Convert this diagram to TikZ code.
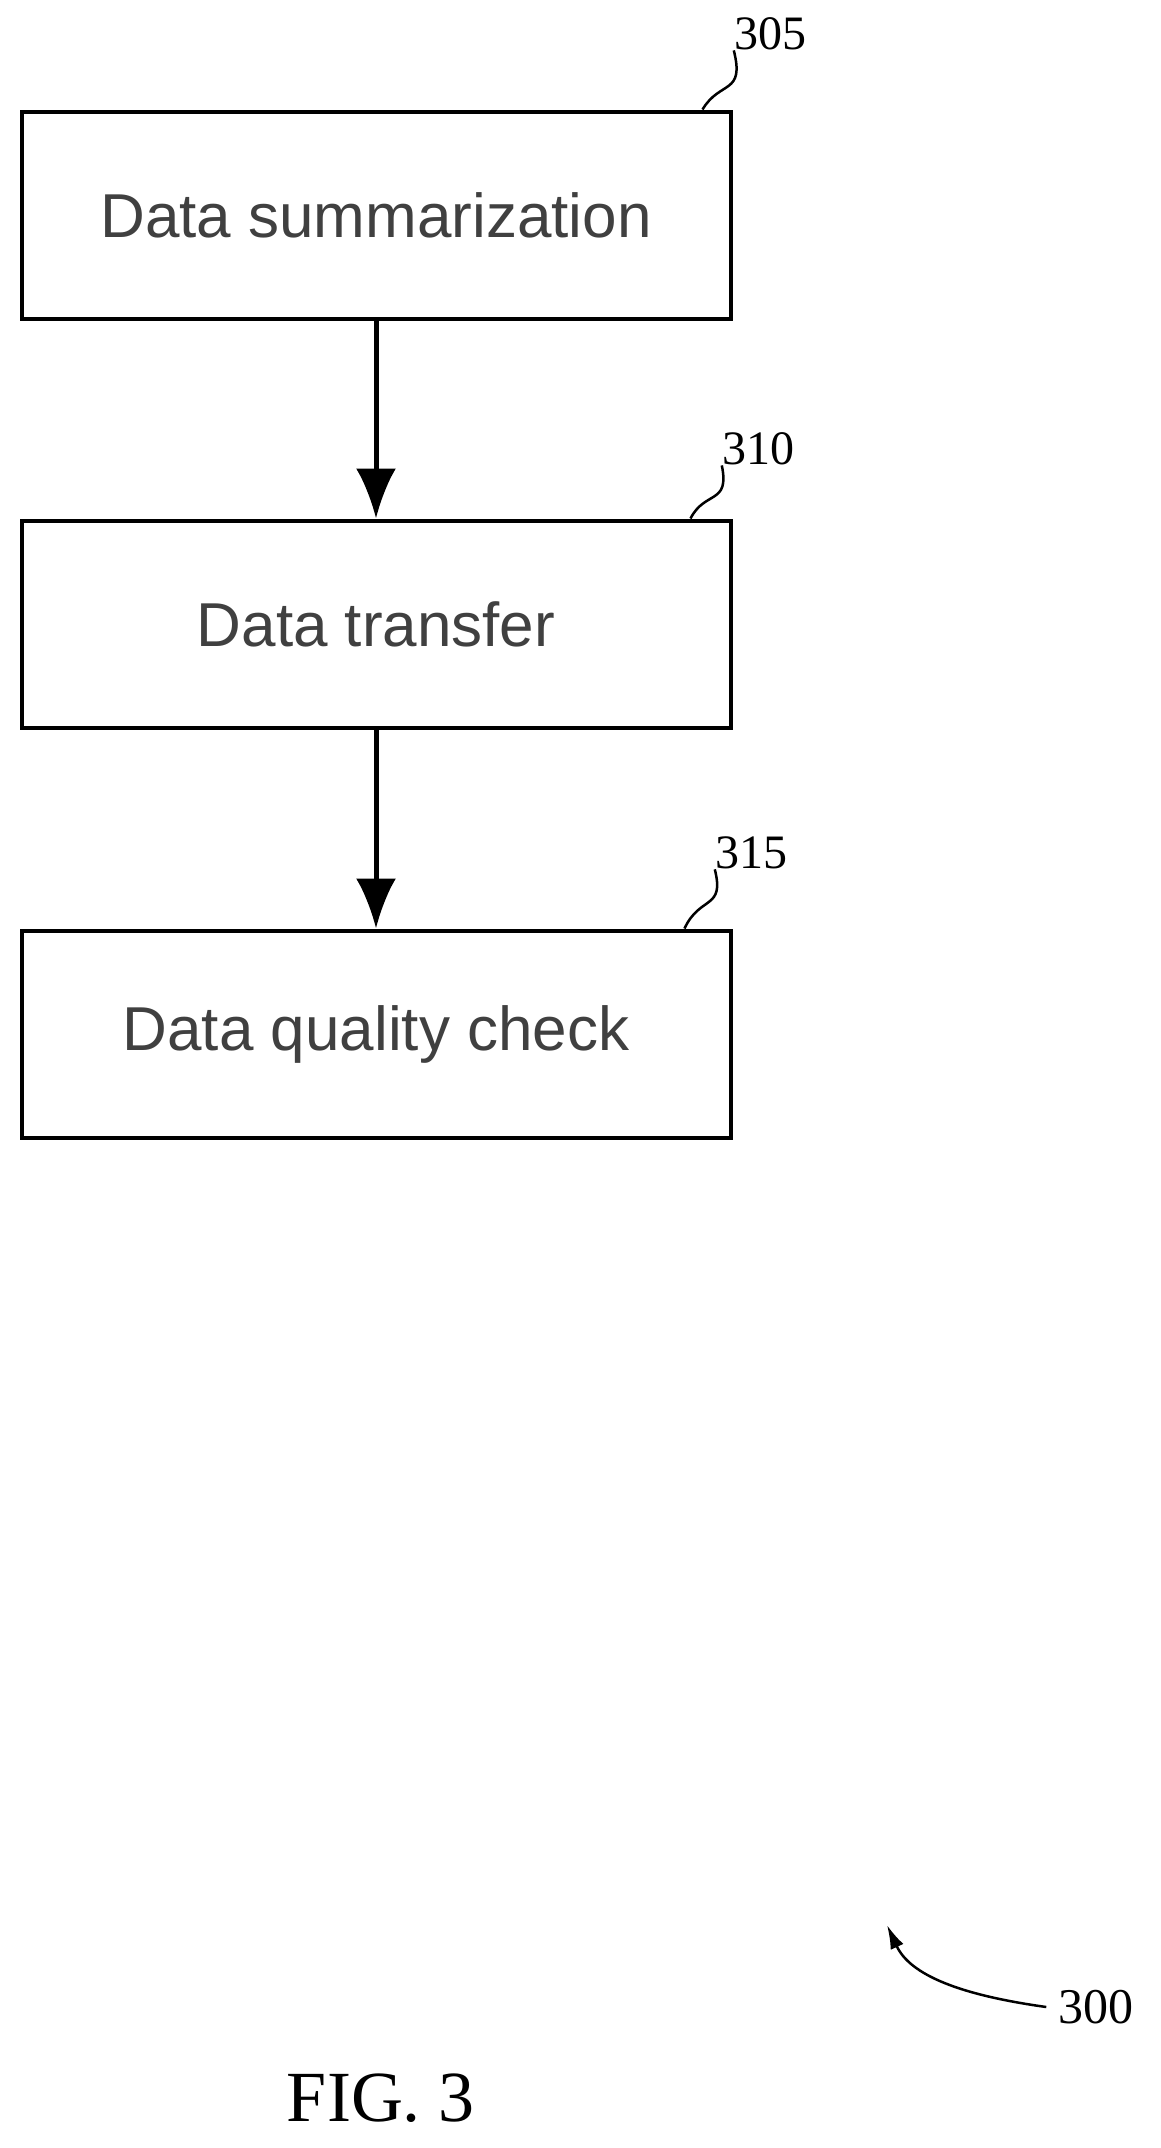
\documentclass[tikz,border=0pt]{standalone}
\usepackage{fontspec}
\setmainfont{Liberation Serif}
\newfontfamily\boxfont{Liberation Sans}
\usetikzlibrary{positioning, arrows.meta}

\begin{document}
\begin{tikzpicture}[x=1pt, y=-1pt,
  stage/.style={draw, line width=4pt, minimum width=709pt, minimum height=207pt, inner sep=0pt, font=\boxfont\fontsize{62}{66}\selectfont, text=black!75},
  flow/.style={line width=5pt, -{Latex[length=50pt, width=40pt]}},
  refnum/.style={font=\fontsize{48}{52}\selectfont, inner sep=0pt},
  leader/.style={line width=2.5pt}]

\useasboundingbox (0,0) rectangle (1160,2148);

\node[stage] (sum) at (376,215) {Data summarization};
\node[stage] (tra) at (376,624) {Data transfer};
\node[stage] (qua) at (376,1034) {Data quality check};

\draw[flow] (sum) -- (tra);
\draw[flow] (tra) -- (qua);

% reference numerals
\node[refnum] (l305) at (770,34) {305};
\node[refnum] (l310) at (758,449) {310};
\node[refnum] (l315) at (751,853) {315};

\draw[leader] (sum.north east) ++(-30,0) coordinate (c305) .. controls (720,80) and (745,95) .. (l305.south west);
\draw[leader] (tra.north east) ++(-42,0) coordinate (c310) .. controls (705,490) and (730,505) .. (l310.south west);
\draw[leader] (qua.north east) ++(-48,0) coordinate (c315) .. controls (700,895) and (725,910) .. (l315.south west);

% figure numeral
\node[refnum, font=\fontsize{50}{54}\selectfont] (l300) at (1096,2007) {300};
\draw[leader, -{Latex[length=24pt, width=14pt]}] (l300.west) ++(-12,0) coordinate (c300) .. controls (960,1995) and (910,1975) .. (887,1925);

\node[inner sep=0pt, font=\fontsize{72}{76}\selectfont] (fig) at (381,2098) {FIG. 3};
\end{tikzpicture}
\end{document}
